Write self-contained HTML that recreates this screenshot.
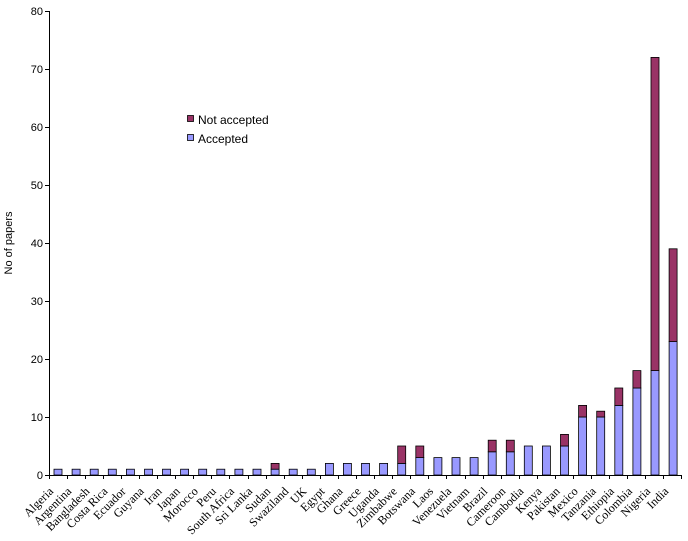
<!DOCTYPE html>
<html><head><style>body{margin:0;background:#fff}svg{display:block}</style></head><body>
<svg width="688" height="541" xmlns="http://www.w3.org/2000/svg">
<rect width="688" height="541" fill="#fff"/>
<g font-family="Liberation Sans, sans-serif" font-size="11" text-anchor="end" fill="#000">
<text x="43" y="479">0</text><text x="43" y="421">10</text><text x="43" y="363">20</text><text x="43" y="305">30</text><text x="43" y="247">40</text><text x="43" y="189">50</text><text x="43" y="131">60</text><text x="43" y="73">70</text><text x="43" y="15">80</text>
</g>
<text transform="translate(12,243) rotate(-90)" font-family="Liberation Sans, sans-serif" font-size="11" text-anchor="middle">No of papers</text>
<g stroke="#000" stroke-width="1">
<line x1="49.5" y1="11" x2="49.5" y2="475"/>
<line x1="49" y1="475.5" x2="682" y2="475.5"/>
<path d="M45 475.5h4M45 417.5h4M45 359.5h4M45 301.5h4M45 243.5h4M45 185.5h4M45 127.5h4M45 69.5h4M45 11.5h4"/>
<path d="M49.5 475v4M67.5 475v4M85.5 475v4M103.5 475v4M121.5 475v4M139.5 475v4M157.5 475v4M175.5 475v4M193.5 475v4M211.5 475v4M229.5 475v4M248.5 475v4M266.5 475v4M284.5 475v4M302.5 475v4M320.5 475v4M338.5 475v4M356.5 475v4M374.5 475v4M392.5 475v4M410.5 475v4M428.5 475v4M446.5 475v4M465.5 475v4M483.5 475v4M501.5 475v4M519.5 475v4M537.5 475v4M555.5 475v4M573.5 475v4M591.5 475v4M609.5 475v4M627.5 475v4M645.5 475v4M663.5 475v4M681.5 475v4"/>
</g>
<g stroke="#000" stroke-width="0.8" fill="#9999FF">
<rect x="54" y="469.2" width="8" height="5.8"/><rect x="72.1" y="469.2" width="8" height="5.8"/><rect x="90.2" y="469.2" width="8" height="5.8"/><rect x="108.3" y="469.2" width="8" height="5.8"/><rect x="126.4" y="469.2" width="8" height="5.8"/><rect x="144.5" y="469.2" width="8" height="5.8"/><rect x="162.5" y="469.2" width="8" height="5.8"/><rect x="180.6" y="469.2" width="8" height="5.8"/><rect x="198.7" y="469.2" width="8" height="5.8"/><rect x="216.8" y="469.2" width="8" height="5.8"/><rect x="234.9" y="469.2" width="8" height="5.8"/><rect x="253" y="469.2" width="8" height="5.8"/>
<rect x="271.1" y="469.2" width="8" height="5.8"/><rect x="289.2" y="469.2" width="8" height="5.8"/><rect x="307.3" y="469.2" width="8" height="5.8"/>
<rect x="325.4" y="463.4" width="8" height="11.6"/><rect x="343.4" y="463.4" width="8" height="11.6"/><rect x="361.5" y="463.4" width="8" height="11.6"/><rect x="379.6" y="463.4" width="8" height="11.6"/><rect x="397.7" y="463.4" width="8" height="11.6"/>
<rect x="415.8" y="457.6" width="8" height="17.4"/><rect x="433.9" y="457.6" width="8" height="17.4"/><rect x="452" y="457.6" width="8" height="17.4"/><rect x="470.1" y="457.6" width="8" height="17.4"/>
<rect x="488.2" y="451.8" width="8" height="23.2"/><rect x="506.3" y="451.8" width="8" height="23.2"/>
<rect x="524.3" y="446" width="8" height="29"/><rect x="542.4" y="446" width="8" height="29"/><rect x="560.5" y="446" width="8" height="29"/>
<rect x="578.6" y="417" width="8" height="58"/><rect x="596.7" y="417" width="8" height="58"/>
<rect x="614.8" y="405.4" width="8" height="69.6"/><rect x="632.9" y="388" width="8" height="87"/><rect x="651" y="370.6" width="8" height="104.4"/><rect x="669.1" y="341.6" width="8" height="133.4"/>
</g>
<g stroke="#000" stroke-width="0.8" fill="#993366">
<rect x="271.1" y="463.4" width="8" height="5.8"/>
<rect x="397.7" y="446" width="8" height="17.4"/>
<rect x="415.8" y="446" width="8" height="11.6"/>
<rect x="488.2" y="440.2" width="8" height="11.6"/><rect x="506.3" y="440.2" width="8" height="11.6"/>
<rect x="560.5" y="434.4" width="8" height="11.6"/>
<rect x="578.6" y="405.4" width="8" height="11.6"/>
<rect x="596.7" y="411.2" width="8" height="5.8"/>
<rect x="614.8" y="388" width="8" height="17.4"/>
<rect x="632.9" y="370.6" width="8" height="17.4"/>
<rect x="651" y="57.4" width="8" height="313.2"/>
<rect x="669.1" y="248.8" width="8" height="92.8"/>
</g>
<rect x="187.5" y="115.5" width="6" height="6" fill="#993366" stroke="#000" stroke-width="0.8"/>
<rect x="187.5" y="134.5" width="6" height="6" fill="#9999FF" stroke="#000" stroke-width="0.8"/>
<text x="198" y="124" font-family="Liberation Sans, sans-serif" font-size="12">Not accepted</text>
<text x="198" y="143" font-family="Liberation Sans, sans-serif" font-size="12">Accepted</text>
<g font-family="Liberation Serif, serif" font-size="12" text-anchor="end">
<text transform="translate(54,492) rotate(-45)">Algeria</text>
<text transform="translate(72.1,492) rotate(-45)">Argentina</text>
<text transform="translate(90.2,492) rotate(-45)">Bangladesh</text>
<text transform="translate(108.3,492) rotate(-45)">Costa Rica</text>
<text transform="translate(126.4,492) rotate(-45)">Ecuador</text>
<text transform="translate(144.5,492) rotate(-45)">Guyana</text>
<text transform="translate(162.5,492) rotate(-45)">Iran</text>
<text transform="translate(180.6,492) rotate(-45)">Japan</text>
<text transform="translate(198.7,492) rotate(-45)">Morocco</text>
<text transform="translate(216.8,492) rotate(-45)">Peru</text>
<text transform="translate(234.9,492) rotate(-45)">South Africa</text>
<text transform="translate(253,492) rotate(-45)">Sri Lanka</text>
<text transform="translate(271.1,492) rotate(-45)">Sudan</text>
<text transform="translate(289.2,492) rotate(-45)">Swaziland</text>
<text transform="translate(307.3,492) rotate(-45)">UK</text>
<text transform="translate(325.4,492) rotate(-45)">Egypt</text>
<text transform="translate(343.4,492) rotate(-45)">Ghana</text>
<text transform="translate(361.5,492) rotate(-45)">Greece</text>
<text transform="translate(379.6,492) rotate(-45)">Uganda</text>
<text transform="translate(397.7,492) rotate(-45)">Zimbabwe</text>
<text transform="translate(415.8,492) rotate(-45)">Botswana</text>
<text transform="translate(433.9,492) rotate(-45)">Laos</text>
<text transform="translate(452,492) rotate(-45)">Venezuela</text>
<text transform="translate(470.1,492) rotate(-45)">Vietnam</text>
<text transform="translate(488.2,492) rotate(-45)">Brazil</text>
<text transform="translate(506.3,492) rotate(-45)">Cameroon</text>
<text transform="translate(524.3,492) rotate(-45)">Cambodia</text>
<text transform="translate(542.4,492) rotate(-45)">Kenya</text>
<text transform="translate(560.5,492) rotate(-45)">Pakistan</text>
<text transform="translate(578.6,492) rotate(-45)">Mexico</text>
<text transform="translate(596.7,492) rotate(-45)">Tanzania</text>
<text transform="translate(614.8,492) rotate(-45)">Ethiopia</text>
<text transform="translate(632.9,492) rotate(-45)">Colombia</text>
<text transform="translate(651,492) rotate(-45)">Nigeria</text>
<text transform="translate(669.1,492) rotate(-45)">India</text>
</g>
</svg>
</body></html>
